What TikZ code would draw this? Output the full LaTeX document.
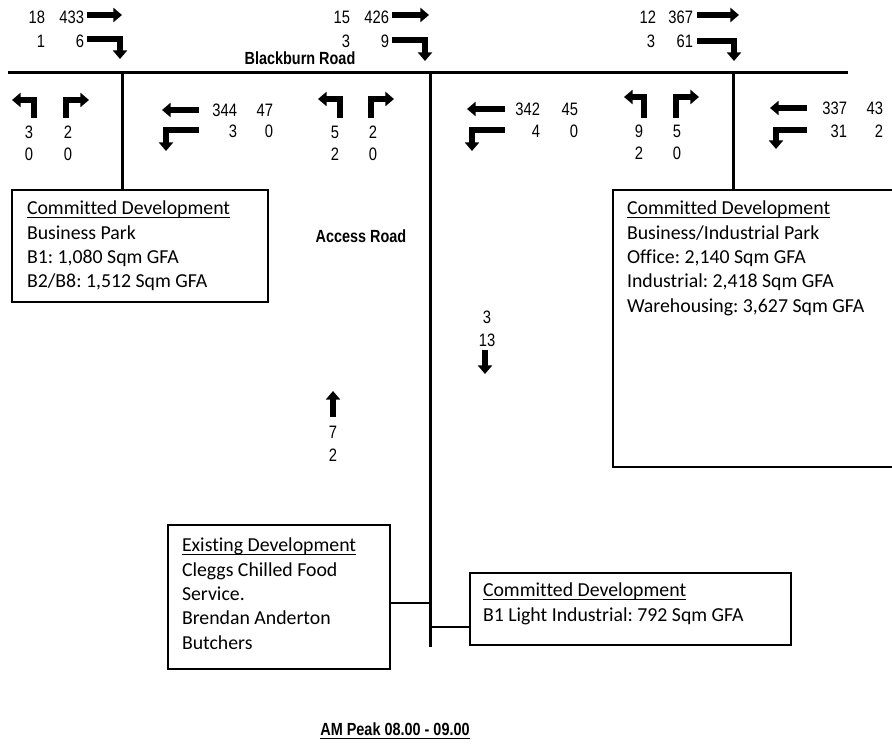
\documentclass[tikz,border=0pt]{standalone}
\usepackage{fontspec}
\usepackage{tikz}
\usetikzlibrary{arrows.meta}
\newfontfamily\boxfont[Ligatures=NoCommon]{Carlito}
\newfontfamily\numfont[FakeStretch=0.82]{Liberation Sans}
\newsavebox\ulsave
\newcommand{\ulbox}[1]{\sbox\ulsave{#1}\rlap{\rule[-1.6pt]{\wd\ulsave}{0.7pt}}\usebox\ulsave}
\frenchspacing

\begin{document}
\begin{tikzpicture}[x=.5pt,y=-.5pt,
  road/.style={draw=black,line width=1.5pt},
  link/.style={draw=black,line width=1.2pt},
  devbox/.style={draw=black,line width=0.8pt,inner sep=0pt,outer sep=0pt,anchor=north west},
  devtext/.style={inner sep=0pt,outer sep=0pt,anchor=north west,align=left,font=\boxfont\fontsize{9.9}{12.2}\selectfont},
  flow/.style={inner sep=0pt,outer sep=0pt,anchor=east,font=\numfont\fontsize{9}{10}\selectfont},
  flowc/.style={flow,anchor=center},
  roadname/.style={inner sep=0pt,outer sep=0pt,font=\numfont\bfseries\fontsize{8.8}{10}\selectfont},
  blk/.style={line width=2.6pt,line join=miter,-{Triangle[length=4.3pt,width=7pt]}}]
\path[use as bounding box] (0,0) rectangle (892,747);
\path[fill=white,draw=none] (0,0) rectangle (892,747);
\node[devbox,minimum width=128pt,minimum height=56pt] (busPark) at (12,190) {};
\node[devbox,minimum width=143.5pt,minimum height=138.5pt] (indPark) at (613,190) {};
\node[devbox,minimum width=111pt,minimum height=72pt] (existDev) at (168,525) {};
\node[devbox,minimum width=160.5pt,minimum height=36pt] (lightInd) at (470,573) {};
\node[devtext] (busParkTxt) at (27,201) {\ulbox{Committed Development}\\Business Park\\B1: 1,080 Sqm GFA\\B2/B8: 1,512 Sqm GFA};
\node[devtext] (indParkTxt) at (627,201) {\ulbox{Committed Development}\\Business/Industrial Park\\Office: 2,140 Sqm GFA\\Industrial: 2,418 Sqm GFA\\Warehousing: 3,627 Sqm GFA};
\node[devtext] (existDevTxt) at (182,538) {\ulbox{Existing Development}\\Cleggs Chilled Food\\Service.\\Brendan Anderton\\Butchers};
\node[devtext] (lightIndTxt) at (483,583) {\ulbox{Committed Development}\\B1 Light Industrial: 792 Sqm GFA};
\coordinate (rdW) at (8,73);
\coordinate (rdE) at (848,73);
\coordinate (jW) at (122,73);
\coordinate (jM) at (430,73);
\coordinate (jE) at (733,73);
\coordinate (acEnd) at (430,647);
\coordinate (jA) at (430,603);
\coordinate (jB) at (430,627);
\draw[road] (rdW) -- (rdE);
\draw[road] (jW) -- (jW |- busPark.north);
\draw[road] (jM) -- (acEnd);
\draw[road] (jE) -- (jE |- indPark.north);
\draw[link] (existDev.east |- jA) -- (jA);
\draw[link] (jB) -- (lightInd.west |- jB);
\node[roadname] (blackburn) at (300,58) {Blackburn Road};
\node[roadname] (access) at (361,236) {Access Road};
\node[roadname] (peak) at (395,731) {\ulbox{AM Peak 08.00 - 09.00}};
\node[flow] (wA1) at (45,17) {18};
\node[flow] (wA2) at (84,17) {433};
\node[flow] (wA3) at (45,41) {1};
\node[flow] (wA4) at (84,41) {6};
\draw[blk] (87,15) -- (122,15);
\draw[blk] (87,39) -- (120,39) -- (120,59);
\node[flow] (wB1) at (350,17) {15};
\node[flow] (wB2) at (389,17) {426};
\node[flow] (wB3) at (350,41) {3};
\node[flow] (wB4) at (389,41) {9};
\draw[blk] (392,15) -- (429,15);
\draw[blk] (392,40) -- (425,40) -- (425,61);
\node[flow] (wC1) at (656,17) {12};
\node[flow] (wC2) at (693,17) {367};
\node[flow] (wC3) at (655,41) {3};
\node[flow] (wC4) at (693,41) {61};
\draw[blk] (697,15) -- (739,15);
\draw[blk] (697,41) -- (734,41) -- (734,61);
\draw[blk] (34,118) -- (34,100) -- (12,100);
\draw[blk] (66,118) -- (66,100) -- (89,100);
\node[flowc] (sA1) at (29,132) {3};
\node[flowc] (sA2) at (68,132) {2};
\node[flowc] (sA3) at (29,154) {0};
\node[flowc] (sA4) at (68,154) {0};
\draw[blk] (340,118) -- (340,99) -- (318,99);
\draw[blk] (371,118) -- (371,99) -- (394,99);
\node[flowc] (sB1) at (335,132) {5};
\node[flowc] (sB2) at (373,132) {2};
\node[flowc] (sB3) at (335,154) {2};
\node[flowc] (sB4) at (373,154) {0};
\draw[blk] (644,118) -- (644,97) -- (624,97);
\draw[blk] (676,118) -- (676,97) -- (699,97);
\node[flowc] (sC1) at (639,131) {9};
\node[flowc] (sC2) at (677,131) {5};
\node[flowc] (sC3) at (639,153) {2};
\node[flowc] (sC4) at (677,153) {0};
\draw[blk] (199,110) -- (162,110);
\draw[blk] (199,130) -- (166,130) -- (166,151);
\node[flow] (eA1) at (237,110) {344};
\node[flow] (eA2) at (273,110) {47};
\node[flow] (eA3) at (237,131) {3};
\node[flow] (eA4) at (273,131) {0};
\draw[blk] (505,109) -- (467,109);
\draw[blk] (505,130) -- (472,130) -- (472,151);
\node[flow] (eB1) at (540,109) {342};
\node[flow] (eB2) at (578,109) {45};
\node[flow] (eB3) at (540,131) {4};
\node[flow] (eB4) at (578,131) {0};
\draw[blk] (807,108) -- (770,108);
\draw[blk] (807,130) -- (776,130) -- (776,149);
\node[flow] (eC1) at (847,108) {337};
\node[flow] (eC2) at (883,108) {43};
\node[flow] (eC3) at (847,131) {31};
\node[flow] (eC4) at (883,131) {2};
\node[flowc] (nA1) at (487,317) {3};
\node[flowc] (nA2) at (487,340) {13};
\draw[blk] (485,350) -- (485,374);
\draw[blk] (333,417) -- (333,391);
\node[flowc] (nB1) at (333,432) {7};
\node[flowc] (nB2) at (333,455) {2};
\end{tikzpicture}
\end{document}
